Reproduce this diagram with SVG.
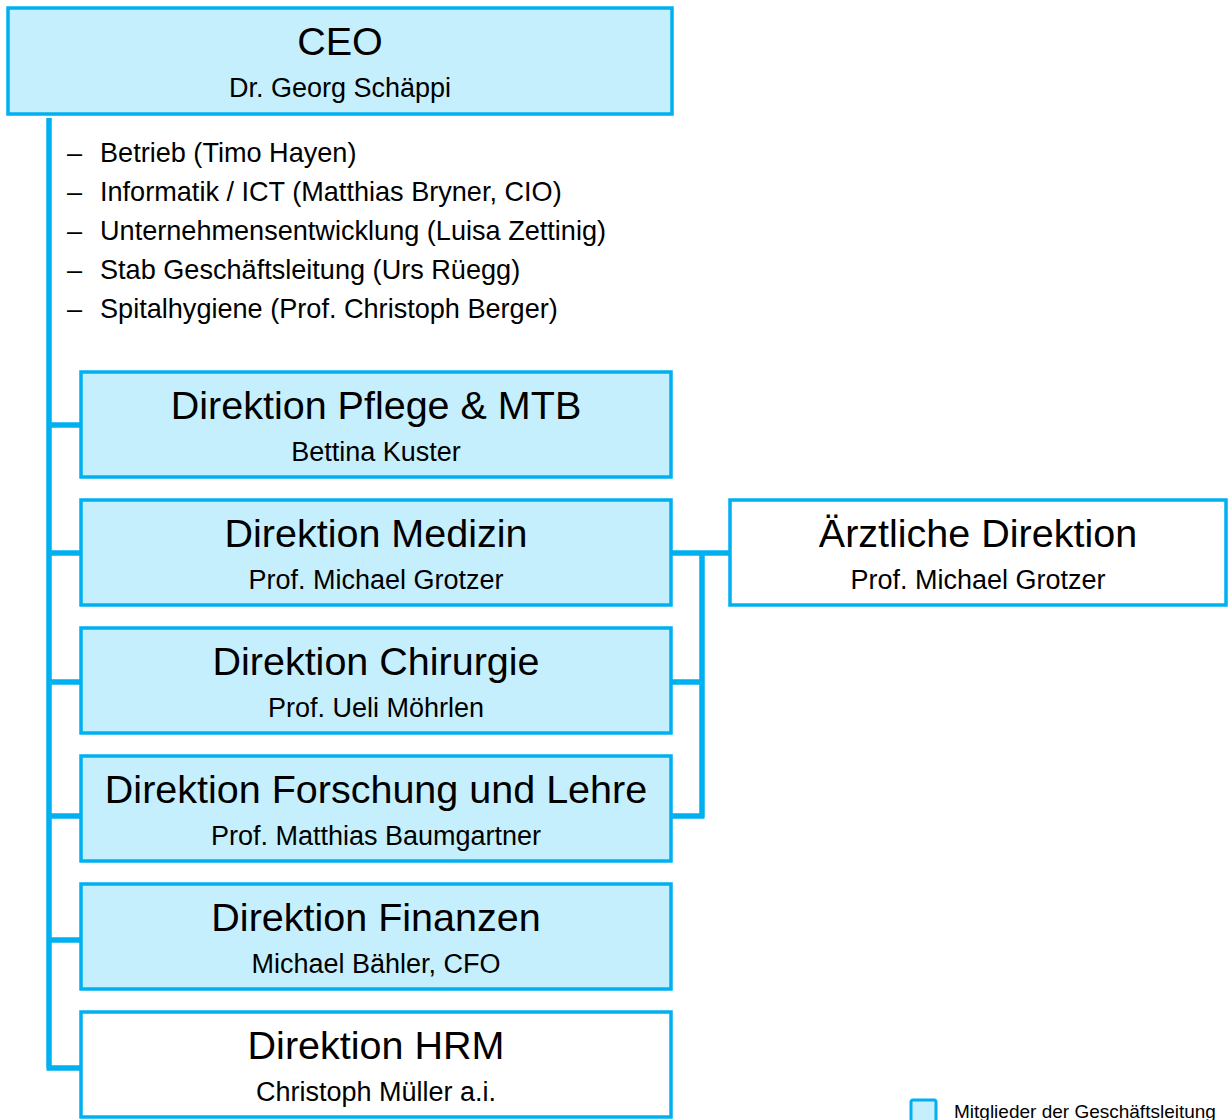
<svg xmlns="http://www.w3.org/2000/svg" width="1229" height="1120" viewBox="0 0 1229 1120">
<style>
.box{stroke:#00B0F0;stroke-width:3.5;}
.gl{fill:#C6EFFD;}
.wh{fill:#FFFFFF;}
.t{font-family:"Liberation Sans",Arial,sans-serif;fill:#000;text-anchor:middle;}
.h{font-size:39.5px;}
.s{font-size:27px;}
.li{font-family:"Liberation Sans",Arial,sans-serif;font-size:27.1px;fill:#000;}
.con{fill:none;stroke:#00B0F0;stroke-width:5.5;}
</style>
<rect width="1229" height="1120" fill="#FFFFFF"/>
<g id="connectors">
<path class="con" d="M49 118 V1068 M49 425 H81 M49 553 H81 M49 682 H81 M49 816 H81 M49 940 H81 M46.5 1068 H81"/>
<path class="con" d="M671 553 H730 M702 553 V817 M671 682 H702 M671 816 H704.5"/>
</g>
<g id="ceo">
<rect class="box gl" x="8" y="8" width="664" height="106"/>
<text class="t h" x="340" y="55">CEO</text>
<text class="t s" x="340" y="97">Dr. Georg Schäppi</text>
</g>
<g id="stab">
<text class="li" x="67" y="162">–</text><text class="li" x="100" y="162">Betrieb (Timo Hayen)</text>
<text class="li" x="67" y="201">–</text><text class="li" x="100" y="201">Informatik / ICT (Matthias Bryner, CIO)</text>
<text class="li" x="67" y="240">–</text><text class="li" x="100" y="240">Unternehmensentwicklung (Luisa Zettinig)</text>
<text class="li" x="67" y="279">–</text><text class="li" x="100" y="279">Stab Geschäftsleitung (Urs Rüegg)</text>
<text class="li" x="67" y="318">–</text><text class="li" x="100" y="318">Spitalhygiene (Prof. Christoph Berger)</text>
</g>
<g id="pflege">
<rect class="box gl" x="81" y="372" width="590" height="105"/>
<text class="t h" x="376" y="419">Direktion Pflege &amp; MTB</text>
<text class="t s" x="376" y="461">Bettina Kuster</text>
</g>
<g id="medizin">
<rect class="box gl" x="81" y="500" width="590" height="105"/>
<text class="t h" x="376" y="547">Direktion Medizin</text>
<text class="t s" x="376" y="589">Prof. Michael Grotzer</text>
</g>
<g id="chirurgie">
<rect class="box gl" x="81" y="628" width="590" height="105"/>
<text class="t h" x="376" y="675">Direktion Chirurgie</text>
<text class="t s" x="376" y="717">Prof. Ueli Möhrlen</text>
</g>
<g id="forschung">
<rect class="box gl" x="81" y="756" width="590" height="105"/>
<text class="t h" x="376" y="803">Direktion Forschung und Lehre</text>
<text class="t s" x="376" y="845">Prof. Matthias Baumgartner</text>
</g>
<g id="finanzen">
<rect class="box gl" x="81" y="884" width="590" height="105"/>
<text class="t h" x="376" y="931">Direktion Finanzen</text>
<text class="t s" x="376" y="973">Michael Bähler, CFO</text>
</g>
<g id="hrm">
<rect class="box wh" x="81" y="1012" width="590" height="105"/>
<text class="t h" x="376" y="1059">Direktion HRM</text>
<text class="t s" x="376" y="1101">Christoph Müller a.i.</text>
</g>
<g id="aerztliche">
<rect class="box wh" x="730" y="500" width="496" height="105"/>
<text class="t h" x="978" y="547">Ärztliche Direktion</text>
<text class="t s" x="978" y="589">Prof. Michael Grotzer</text>
</g>
<g id="legend">
<rect x="911" y="1100" width="25" height="30" rx="2" fill="#C6EFFD" stroke="#00B0F0" stroke-width="3"/>
<text x="954" y="1118" font-family="'Liberation Sans',Arial,sans-serif" font-size="19" fill="#000">Mitglieder der Geschäftsleitung</text>
</g>
</svg>
